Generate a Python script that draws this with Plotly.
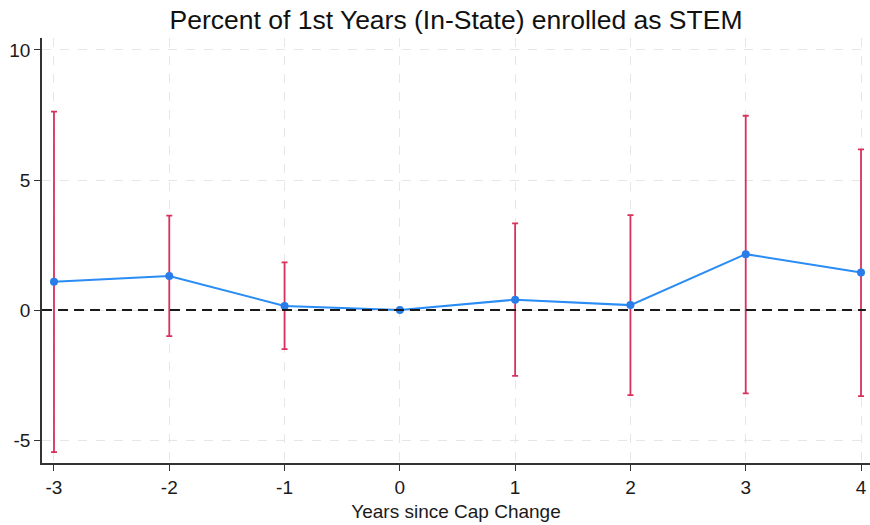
import plotly.graph_objects as go

years = [-3, -2, -1, 0, 1, 2, 3, 4]
estimate = [1.09, 1.31, 0.16, 0.0, 0.40, 0.19, 2.15, 1.44]
ci_upper = [7.63, 3.63, 1.83, 0.0, 3.33, 3.65, 7.47, 6.18]
ci_lower = [-5.46, -1.00, -1.50, 0.0, -2.53, -3.27, -3.20, -3.31]
y_ticks = [-5, 0, 5, 10]

err_plus = [u - e for u, e in zip(ci_upper, estimate)]
err_minus = [e - l for e, l in zip(estimate, ci_lower)]

font_family = "Liberation Sans, Arial, sans-serif"

fig = go.Figure()
fig.add_trace(go.Scatter(
    x=years, y=estimate, mode="markers",
    marker=dict(size=1, color="rgba(0,0,0,0)"),
    error_y=dict(type="data", array=err_plus, arrayminus=err_minus,
                 color="#d8315b", thickness=1.8, width=3, visible=True),
    showlegend=False, hoverinfo="skip",
))
fig.add_trace(go.Scatter(
    x=years, y=estimate, mode="lines+markers",
    line=dict(color="#2a8cf5", width=2),
    marker=dict(color="#2a7de8", size=8),
    showlegend=False,
))

fig.add_shape(type="line", xref="paper", x0=0, x1=0.995, yref="y", y0=0, y1=0,
              line=dict(color="#1a1a1a", width=2, dash="10px,6px"), layer="above")

fig.update_layout(
    width=870, height=525,
    margin=dict(l=42, r=0, t=38, b=62),
    paper_bgcolor="white", plot_bgcolor="white",
    font=dict(family=font_family, color="#1a1a1a", size=19),
    title=dict(text="Percent of 1st Years (In-State) enrolled as STEM",
               x=0.5, xref="paper", xanchor="center",
               y=0.962, yref="container", yanchor="middle",
               font=dict(size=26.5, family=font_family, color="#111111")),
)
fig.update_xaxes(
    range=[-3.104, 4.078], tickmode="array", tickvals=years,
    ticktext=[str(v) for v in years],
    showgrid=True, gridcolor="#e6e6e6", griddash="dash", gridwidth=1,
    showline=True, linecolor="#333333", linewidth=1.5,
    ticks="outside", ticklen=6, tickcolor="#333333",
    zeroline=False, automargin=False,
    title=dict(text="Years since Cap Change", font=dict(size=19), standoff=8),
    tickfont=dict(size=19),
)
fig.update_yaxes(
    range=[-5.88, 10.46], tickmode="array", tickvals=y_ticks,
    ticktext=[str(v) for v in y_ticks],
    showgrid=True, gridcolor="#e6e6e6", griddash="dash", gridwidth=1,
    showline=True, linecolor="#333333", linewidth=1.5,
    ticks="outside", ticklen=6, tickcolor="#333333",
    zeroline=False, automargin=False, tickfont=dict(size=19),
)

fig.write_html("out.html",
               config={"displayModeBar": False},
               post_script="document.body.style.margin='0';document.body.style.overflow='hidden';")
